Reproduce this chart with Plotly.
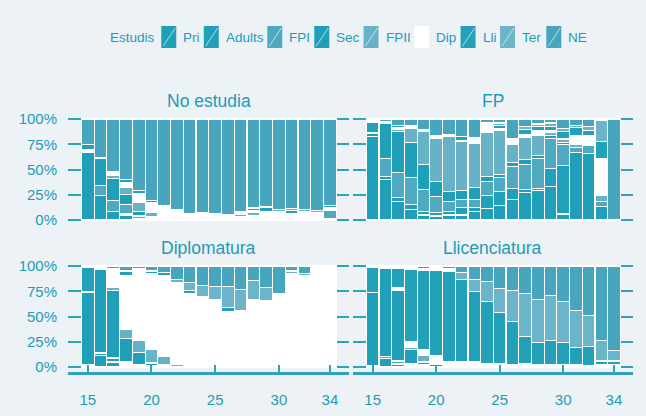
import plotly.graph_objects as go

# ---------------- data ----------------
ages = list(range(15, 35))
categories = ["Pri", "Adults", "FPI", "Sec", "FPII", "Dip", "Lli", "Ter", "NE"]
legend_title = "Estudis"
panel_titles = ["No estudia", "FP", "Diplomatura", "Llicenciatura"]
y_tickvals = [0, 0.25, 0.5, 0.75, 1]
y_ticktext = ["0%", "25%", "50%", "75%", "100%"]
x_tickvals = [15, 20, 25, 30, 34]

# No estudia (values in %, ages 15..34)
noest_pri = [67, 24, 8, 5, 1, 0, 0, 0, 0, 0, 0, 0, 1, 1, 1, 2, 2, 2, 2, 1]
noest_adults = [0, 0, 0, 1, 0, 0, 0, 0, 0, 0, 0, 0, 0, 0, 0, 0, 0, 0, 0, 0]
noest_fpi = [0, 10, 11, 9, 3, 2, 1, 1, 0, 0, 1, 0, 2, 2, 2, 1, 0, 2, 1, 8]
noest_sec = [0, 27, 22, 10, 4, 1, 0, 0, 0, 0, 1, 0, 0, 1, 1, 0, 1, 0, 1, 0]
noest_fpii = [1, 0, 3, 7, 9, 4, 2, 1, 1, 1, 1, 1, 3, 3, 2, 2, 1, 2, 1, 1]
noest_dip = [2, 1, 4, 5, 9, 10, 10, 8, 5, 6, 3, 4, 1, 2, 2, 2, 2, 1, 1, 2]
noest_lli = [5, 0, 0, 3, 3, 2, 1, 0, 0, 0.5, 0, 0, 0, 2, 4, 1, 3, 1, 1, 2]
noest_ter = [0, 0, 0, 0, 0, 0, 0, 0, 0, 0, 0, 0, 1, 1, 1, 2, 2, 2, 2, 0]
noest_ne = [25, 38, 52, 60, 71, 81, 86, 90, 94, 92.5, 94, 95, 92, 88, 87, 90, 89, 90, 91, 86]

# FP
fp_pri = [83, 40, 18, 10, 5, 4, 5, 5, 8, 11, 14, 20, 27, 29, 33, 6, 67, 66, 13, 0]
fp_adults = [0, 3, 4, 5, 3, 3, 3, 7, 4, 13, 14, 11, 3, 2, 18, 48, 0, 0, 0, 0]
fp_fpi = [0, 18, 25, 27, 22, 16, 10, 8, 8, 14, 14, 22, 25, 30, 30, 21, 5, 8, 5, 0]
fp_sec = [3, 35, 41, 35, 25, 15, 10, 9, 12, 5, 3, 4, 5, 3, 3, 2, 0, 0, 0, 0]
fp_fpii = [0, 0, 2, 14, 33, 43, 55, 49, 44, 44, 44, 18, 22, 20, 3, 3, 3, 0, 6, 0]
fp_dip = [1, 1, 2, 3, 2, 3, 2, 1, 6, 9, 2, 6, 3, 5, 2, 1, 9, 10, 37, 0]
fp_lli = [10, 0, 2, 0, 0, 0, 0, 4, 0, 0, 3, 0, 5, 4, 4, 7, 8, 5, 17, 0]
fp_ter = [1, 0, 0, 0, 0, 0, 0, 0, 0, 0, 2, 0, 3, 2, 3, 3, 2, 4, 21, 0]
fp_ne = [2, 3, 6, 6, 10, 16, 15, 17, 18, 4, 4, 19, 7, 5, 4, 9, 6, 7, 1, 100]

# Diplomatura
dip_pri = [2, 11, 5, 2, 1, 1, 0, 0, 0, 0, 0, 0, 0, 0, 0, 0, 0, 0, 0, 0]
dip_adults = [0, 2, 3, 2, 0, 0, 0, 0, 0, 0, 0, 0, 0, 0, 0, 0, 0, 0, 0, 0]
dip_fpi = [0, 1, 1, 1, 1, 0, 0, 0, 0, 0, 0, 0, 0, 0, 0, 0, 0, 0, 0, 0]
dip_sec = [72, 83, 67, 23, 12, 3, 2, 0.5, 0, 0, 0, 0, 0, 0, 0, 0, 0, 0, 0, 0]
dip_fpii = [0, 0, 3, 9, 12, 13, 8, 2, 1, 0, 0, 0, 0, 0, 0, 0, 0, 0, 0, 0]
dip_dip = [1, 3, 16, 54, 69, 76, 81, 80, 72, 70, 67, 55, 56, 67, 66, 72, 93, 91, 98, 100]
dip_lli = [24, 0, 1, 4, 2, 2, 3, 1, 3, 0, 0, 4, 0, 0, 0, 0, 0, 0, 0, 0]
dip_ter = [0, 0, 1, 0, 0, 0, 0, 3, 8, 11, 13, 21, 21, 19, 13, 1, 2, 2, 0, 0]
dip_ne = [1, 0, 3, 5, 3, 5, 6, 13.5, 16, 19, 20, 20, 23, 14, 21, 27, 5, 7, 2, 0]

# Llicenciatura
lli_pri = [1, 8, 3, 1, 2, 3, 2, 1, 1, 2, 1, 1, 1, 1, 1, 1, 1, 1, 1, 1]
lli_adults = [0, 0, 0, 1, 3, 0, 0, 0, 0, 0, 0, 0, 0, 0, 0, 0, 0, 0, 0, 0]
lli_fpi = [0, 2, 3, 1, 0, 0, 1, 2, 2, 1, 0, 0, 0, 0, 0, 0, 0, 0, 0, 0]
lli_sec = [73, 88, 70, 14, 0, 2, 2, 2, 2, 0, 0, 0, 0, 0, 0, 0, 0, 0, 0, 0]
lli_fpii = [0, 0, 0, 2, 6, 1, 0, 0, 0, 0, 2, 1, 2, 1, 1, 1, 1, 0, 1, 1]
lli_dip = [0, 0, 3, 6, 6, 5, 0, 0, 0, 0, 0, 0, 0, 0, 0, 0, 0, 0, 0, 0]
lli_lli = [25, 0, 19, 72, 79, 85, 90, 82, 70, 62, 51, 43, 27, 22, 24, 22, 17, 19, 4, 4]
lli_ter = [0, 0, 0, 1, 1, 2, 2, 7, 12, 20, 24, 31, 43, 43, 45, 41, 37, 31, 20, 10]
lli_ne = [1, 2, 2, 2, 3, 2, 3, 6, 13, 15, 22, 24, 27, 33, 29, 35, 44, 49, 74, 84]

# ---------------- styling ----------------
colors = {
    "Pri": "#1f9fb8", "Adults": "#22a0b9", "FPI": "#4fa9c0", "Sec": "#20a0b8",
    "FPII": "#68b2c7", "Dip": "#ffffff", "Lli": "#22a1b9", "Ter": "#6cb4c9",
    "NE": "#47a6be",
}
TEXT = "#1e9bb5"
GRID = "#2ea3bb"
BG = "#edf2f7"
FONT = "Liberation Sans, Arial, sans-serif"

panel_data = [
    [noest_pri, noest_adults, noest_fpi, noest_sec, noest_fpii, noest_dip, noest_lli, noest_ter, noest_ne],
    [fp_pri, fp_adults, fp_fpi, fp_sec, fp_fpii, fp_dip, fp_lli, fp_ter, fp_ne],
    [dip_pri, dip_adults, dip_fpi, dip_sec, dip_fpii, dip_dip, dip_lli, dip_ter, dip_ne],
    [lli_pri, lli_adults, lli_fpi, lli_sec, lli_fpii, lli_dip, lli_lli, lli_ter, lli_ne],
]

W, H = 646, 416
def px_x(a, b):
    return [a / W, b / W]
def px_y(top, bottom):
    return [1 - bottom / H, 1 - top / H]

x_domains = [px_x(68, 349), px_x(353, 633)]
y_domains = [px_y(114, 225), px_y(261, 372)]

fig = go.Figure()

for p, series in enumerate(panel_data):
    totals = [sum(s[i] for s in series) for i in range(len(ages))]
    ax = "" if p == 0 else str(p + 1)
    for cat, vals in zip(categories, series):
        fig.add_trace(go.Bar(
            x=ages,
            y=[v / t for v, t in zip(vals, totals)],
            name=cat,
            legendgroup=cat,
            showlegend=False,
            marker=dict(color=colors[cat], line=dict(color="white", width=1.2)),
            width=1.0,
            xaxis="x" + ax,
            yaxis="y" + ax,
            hovertemplate=cat + " %{x}: %{y:.0%}<extra></extra>",
        ))

layout = dict(
    template="none",
    width=W, height=H,
    barmode="stack",
    paper_bgcolor=BG, plot_bgcolor=BG,
    margin=dict(l=0, r=0, t=0, b=0, autoexpand=False),
    font=dict(family=FONT, color=TEXT, size=14),
    showlegend=False,
)

for p in range(4):
    row, col = divmod(p, 2)
    ax = "" if p == 0 else str(p + 1)
    bottom = row == 1
    layout["xaxis" + ax] = dict(
        domain=x_domains[col], range=[13.45, 35.5], anchor="y" + ax,
        showgrid=False, zeroline=False, automargin=False,
        tickvals=x_tickvals, ticktext=[str(v) for v in x_tickvals],
        showticklabels=bottom,
        showline=bottom, linecolor=GRID, linewidth=2.5,
        ticks="inside" if bottom else "", ticklen=7, tickwidth=2, tickcolor=GRID,
        ticklabelstandoff=12,
        tickfont=dict(size=15, color=TEXT, family=FONT),
        fixedrange=True,
    )
    layout["yaxis" + ax] = dict(
        domain=y_domains[row], range=[-0.05, 1.05], anchor="x" + ax,
        showgrid=True, gridcolor=GRID, gridwidth=2, zeroline=False, automargin=False,
        tickvals=y_tickvals, ticktext=y_ticktext,
        showticklabels=(col == 0), ticks="", showline=False,
        ticklabelstandoff=10,
        tickfont=dict(size=15, color=TEXT, family=FONT),
        fixedrange=True,
    )

annotations = []
shapes = []
for p, title in enumerate(panel_titles):
    row, col = divmod(p, 2)
    xd = x_domains[col]
    yd = y_domains[row]
    annotations.append(dict(
        text=title, xref="paper", yref="paper",
        x=(xd[0] + xd[1]) / 2, y=yd[1] + 13 / H,
        xanchor="center", yanchor="middle", showarrow=False,
        font=dict(size=17.5, color=TEXT, family=FONT),
    ))

# ----- legend row (drawn manually to match ggplot's compact legend) -----
CHAR_W = {"P": .667, "r": .333, "i": .222, "A": .667, "d": .556, "u": .556, "l": .222,
          "t": .278, "s": .5, "F": .611, "I": .278, "S": .667, "e": .556, "c": .5,
          "D": .722, "p": .556, "L": .556, "T": .611, "N": .722, "E": .667}
LEG_FS = 13.5
def text_w(s):
    return sum(CHAR_W.get(ch, .556) for ch in s) * LEG_FS

LEG_Y = 37
KEY_W, KEY_H = 15, 22
xpos = 108
annotations.append(dict(
    text=legend_title, xref="paper", yref="paper", x=xpos / W, y=1 - LEG_Y / H,
    xanchor="left", yanchor="middle", showarrow=False,
    font=dict(size=LEG_FS, color=TEXT, family=FONT)))
xpos += text_w(legend_title) + 9
for cat in categories:
    x0, x1 = xpos / W, (xpos + KEY_W) / W
    y0, y1 = 1 - (LEG_Y + KEY_H / 2) / H, 1 - (LEG_Y - KEY_H / 2) / H
    shapes.append(dict(type="rect", xref="paper", yref="paper", x0=x0, x1=x1, y0=y0, y1=y1,
                       fillcolor=colors[cat], line=dict(width=0), layer="above"))
    shapes.append(dict(type="line", xref="paper", yref="paper",
                       x0=(xpos + 2) / W, x1=(xpos + KEY_W - 1) / W,
                       y0=y0 + 2 / H, y1=y1 - 2 / H,
                       line=dict(color="rgba(255,255,255,0.8)", width=0.8), layer="above"))
    annotations.append(dict(
        text=cat, xref="paper", yref="paper", x=(xpos + KEY_W + 5) / W, y=1 - LEG_Y / H,
        xanchor="left", yanchor="middle", showarrow=False,
        font=dict(size=LEG_FS, color=TEXT, family=FONT)))
    xpos += KEY_W + 5 + text_w(cat) + 6

layout["annotations"] = annotations
layout["shapes"] = shapes

fig.update_layout(**layout)
fig.write_html(
    "out.html",
    config={"displayModeBar": False},
    post_script="document.body.style.margin='0px';document.body.style.background='" + BG + "';",
)
